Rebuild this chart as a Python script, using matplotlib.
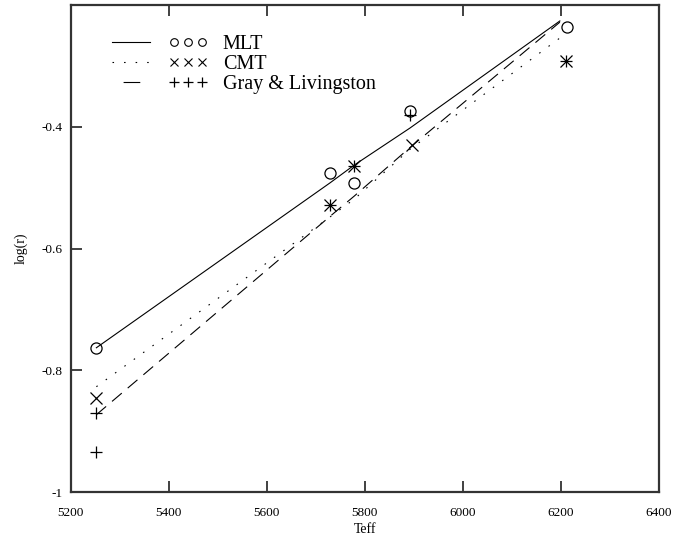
import numpy as np
import matplotlib
matplotlib.use("Agg")
import matplotlib.pyplot as plt
from matplotlib.lines import Line2D
from matplotlib.legend_handler import HandlerLine2D, HandlerTuple

plt.rcParams['font.family'] = ['Liberation Serif', 'DejaVu Serif']
plt.rcParams['axes.unicode_minus'] = False

# fitted relations (Teff vs log r)
fit_teff = [5252, 5729, 5778, 5892, 6198]
mlt_fit = [-0.763, -0.492, -0.463, -0.402, -0.226]
cmt_fit = [-0.827, -0.548, -0.519, -0.437, -0.254]
gl_fit = [-0.873, -0.547, -0.514, -0.434, -0.228]

# individual stars
mlt_teff = [5252, 5729, 5778, 5892, 6212]
mlt_logr = [-0.763, -0.476, -0.492, -0.374, -0.236]
cmt_teff = [5252, 5729, 5778, 5896, 6210]
cmt_logr = [-0.846, -0.529, -0.464, -0.430, -0.292]
gl_teff = [5252, 5252, 5729, 5778, 5892, 6210]
gl_logr = [-0.871, -0.935, -0.529, -0.464, -0.381, -0.292]

names = ['MLT', 'CMT', 'Gray & Livingston']
xticks = [5200, 5400, 5600, 5800, 6000, 6200, 6400]
yticks = [-1, -0.8, -0.6, -0.4]
ytick_labels = ['-1', '-0.8', '-0.6', '-0.4']

fig = plt.figure(figsize=(6.95, 5.38), dpi=100)
ax = fig.add_axes([0.102, 0.0855, 0.846, 0.905])

lw = 0.8
ax.plot(fit_teff, mlt_fit, color='black', lw=lw)
ax.plot(fit_teff, cmt_fit, color='black', lw=lw, dashes=(1.4, 9))
ax.plot(fit_teff, gl_fit, color='black', lw=lw, dashes=(11.5, 7))

ax.plot(mlt_teff, mlt_logr, 'o', ms=8, mfc='none', mec='black', mew=0.9)
ax.plot(cmt_teff, cmt_logr, 'x', ms=8, color='black', mew=0.9)
ax.plot(gl_teff, gl_logr, '+', ms=9, color='black', mew=0.9)

ax.set_xlim(5200, 6400)
ax.set_ylim(-1, -0.2)
ax.set_xticks(xticks)
ax.set_yticks(yticks)
ax.set_yticklabels(ytick_labels)
ax.tick_params(direction='in', length=8, width=1.3, labelsize=9.5, top=True,
               colors='#333333', labelcolor='black', pad=6)
ax.tick_params(axis='x', pad=11)
for s in ax.spines.values():
    s.set_linewidth(1.6)
    s.set_color('#333333')

ax.set_xlabel('Teff', fontsize=10, labelpad=3)
ax.set_ylabel('log(r)', fontsize=10, labelpad=10)

# legend: line sample, then three little symbols, then the name
line_h = [Line2D([], [], color='black', lw=lw),
          Line2D([], [], color='black', lw=lw, dashes=(1.4, 9)),
          Line2D([], [], color='black', lw=lw, linestyle=(35, (15, 30)))]
mark_h = [Line2D([], [], ls='none', marker='o', ms=5.5, mfc='none', mec='black', mew=0.8),
          Line2D([], [], ls='none', marker='x', ms=5.5, color='black', mew=0.8),
          Line2D([], [], ls='none', marker='+', ms=7, color='black', mew=0.9)]
hmap = {h: HandlerLine2D(numpoints=1) for h in line_h}
hmap.update({h: HandlerLine2D(numpoints=3, marker_pad=0.25) for h in mark_h})
hmap[tuple] = HandlerTuple(ndivide=None, pad=0.9)
ax.legend(list(zip(line_h, mark_h)), names, handler_map=hmap,
          loc='upper left', bbox_to_anchor=(0.053, 0.959), borderpad=0,
          frameon=False, fontsize=14.5, handlelength=4.7, handletextpad=0.8,
          labelspacing=0.05)

fig.savefig('out.png', dpi=100)
